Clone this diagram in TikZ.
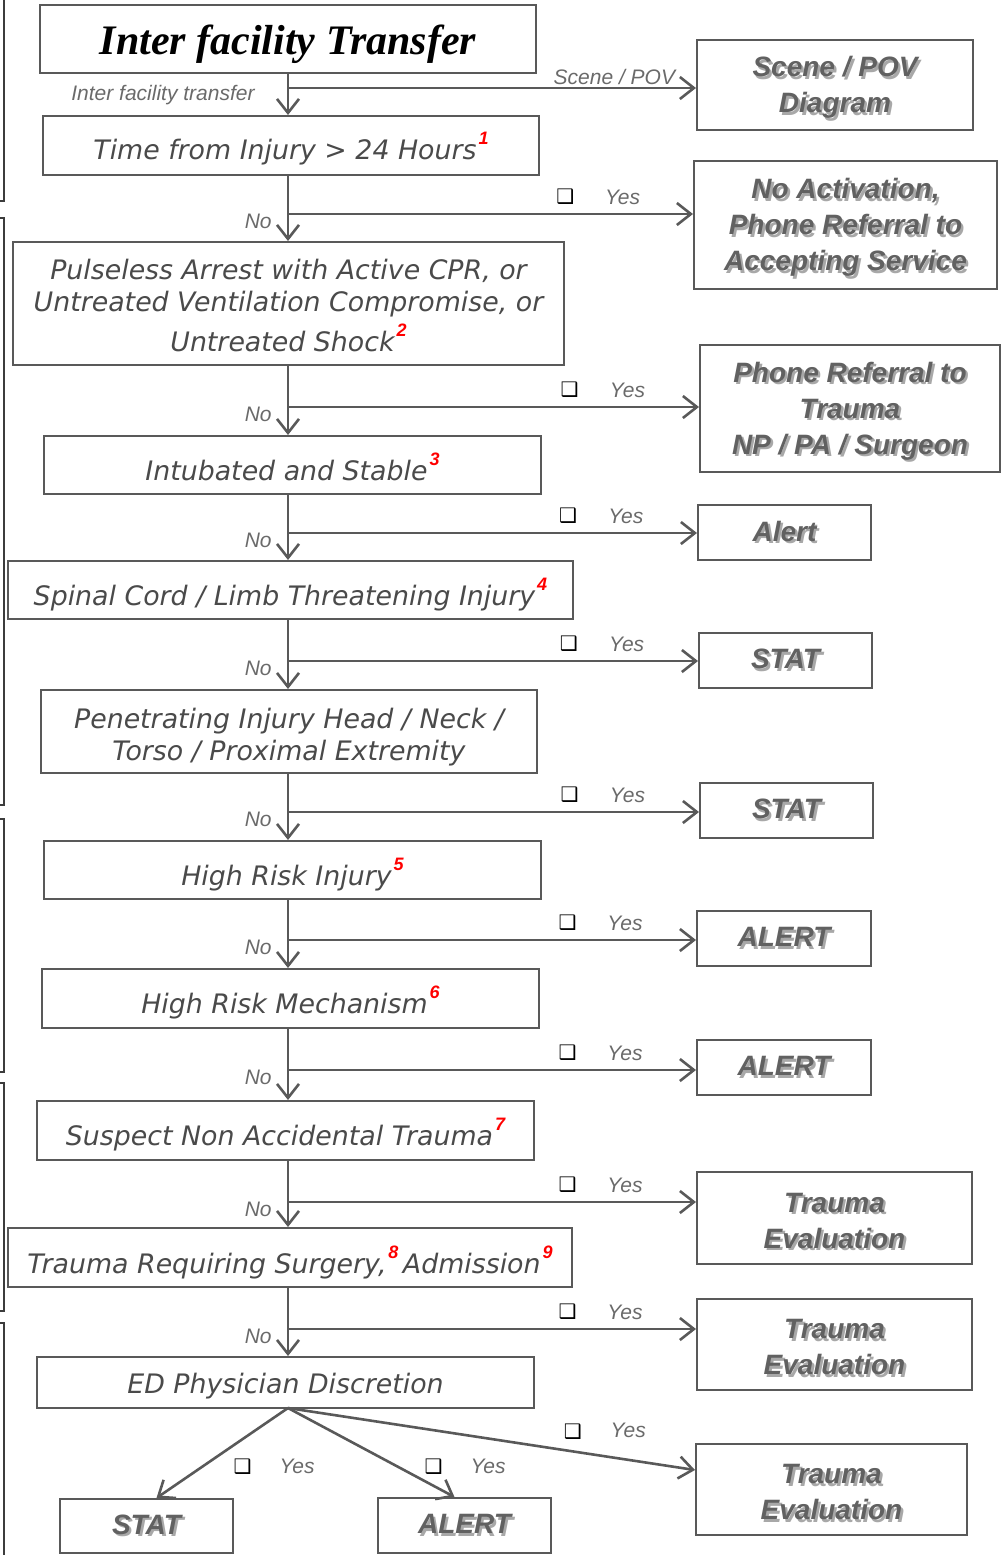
\documentclass[tikz,border=0pt]{standalone}
\usepackage{fontspec}
\usepackage{tikz}
\usetikzlibrary{arrows.meta,positioning,calc}
\setmainfont{DejaVu Sans}
\newfontfamily\critfont{DejaVu Sans}
\newfontfamily\outfont{Liberation Sans}
\newfontfamily\titlefont{Liberation Serif}
\newfontfamily\symfont{DejaVu Sans}
\definecolor{linegray}{HTML}{595959}
\definecolor{textgray}{HTML}{4A4A4A}
\definecolor{lblgray}{HTML}{6A6A6A}
\definecolor{outgray}{HTML}{616161}
\definecolor{shadowgray}{HTML}{A8A8A8}
\definecolor{brkgray}{HTML}{3C3C3C}
\newcommand{\fn}[1]{\kern1pt\raisebox{7.5pt}{\outfont\bfseries\itshape\fontsize{9}{9}\selectfont\color{red}#1}}
\newcommand{\shd}[1]{\leavevmode\rlap{\kern1.2pt\raisebox{-1.2pt}{\color{shadowgray}#1}}#1}
\newcommand{\up}{\rule{0pt}{13.7pt}}
\tikzset{
    crit/.style={
        draw=linegray,
        line width=1pt,
        inner sep=0pt,
        text=textgray,
        align=center,
        font=\critfont\itshape\fontsize{13.4}{16}\selectfont,
    },
    one/.style={
        text height=15.5pt,
        text depth=0.5pt,
    },
    outc/.style={
        draw=linegray,
        line width=1pt,
        inner sep=0pt,
        text=outgray,
        align=center,
        font=\outfont\bfseries\itshape\fontsize{14}{18}\selectfont,
    },
    con/.style={
        draw=linegray,
        line width=1.3pt,
    },
    lbl/.style={
        inner sep=1pt,
        text=lblgray,
        font=\outfont\itshape\fontsize{10.5}{12}\selectfont,
    },
    chk/.style={
        inner sep=1pt,
        text=black,
        font=\symfont\fontsize{10}{10}\selectfont,
    },
    brk/.style={
        draw=brkgray,
        line width=1pt,
    },
}

\begin{document}
\begin{tikzpicture}[x=0.5pt,y=-0.5pt,>={Straight Barb[length=7pt,width=11pt]}]
    \useasboundingbox (0,0) rectangle (1005,1555);
    % brackets at the left edge
    \draw[brk] (-30,-30) rectangle (4,201);
    \draw[brk] (-30,218) rectangle (4,805);
    \draw[brk] (-30,819) rectangle (4,1072);
    \draw[brk] (-30,1083) rectangle (4,1311);
    \draw[brk] (-30,1323) rectangle (4,1600);

    % questions
    \node[crit, one, text=black, font=\titlefont\bfseries\itshape\fontsize{21}{24}\selectfont,
          minimum width=248pt, minimum height=34pt] (title) at (288,39) {Inter facility Transfer};
    \node[crit, one, text height=14.5pt, minimum width=248pt, minimum height=29.5pt] (time) at (291,145.5) {Time from Injury > 24 Hours\fn{1}};
    \node[crit, minimum width=275.5pt, minimum height=61.5pt] (pulse) at (288.5,303.5)
        {\rule{0pt}{12.2pt}Pulseless Arrest with Active CPR, or\\Untreated Ventilation Compromise, or\\[2pt]Untreated Shock\fn{2}};
    \node[crit, one, minimum width=248.5pt, minimum height=29pt] (intub) at (292.5,465) {Intubated and Stable\fn{3}};
    \node[crit, one, minimum width=282.5pt, minimum height=29pt] (spinal) at (290.5,590) {Spinal Cord / Limb Threatening Injury\fn{4}};
    \node[crit, minimum width=248pt, minimum height=41.5pt] (penet) at (289,731.5)
        {\rule{0pt}{16.2pt}Penetrating Injury Head / Neck /\\Torso / Proximal Extremity};
    \node[crit, one, minimum width=248.5pt, minimum height=29pt] (hri) at (292.5,870) {High Risk Injury\fn{5}};
    \node[crit, one, minimum width=248.5pt, minimum height=29.5pt] (hrm) at (290.5,998.5) {High Risk Mechanism\fn{6}};
    \node[crit, one, minimum width=248.5pt, minimum height=29.5pt] (nat) at (285.5,1130.5) {Suspect Non Accidental Trauma\fn{7}};
    \node[crit, one, text height=16.5pt, minimum width=282pt, minimum height=29.5pt] (surg) at (290,1257.5) {Trauma Requiring Surgery,\fn{8}\,Admission\fn{9}};
    \node[crit, one, text height=11.5pt, minimum width=248.5pt, minimum height=25.5pt] (ed) at (285.5,1382.5) {ED Physician Discretion};

    % outcomes
    \node[outc, minimum width=138pt, minimum height=45pt] (scene) at (835,85) {\up\shd{Scene / POV}\\\shd{Diagram}};
    \node[outc, minimum width=151.5pt, minimum height=64pt] (noact) at (845.5,225)
        {\up\shd{No Activation,}\\\shd{Phone Referral to}\\\shd{Accepting Service}};
    \node[outc, minimum width=150pt, minimum height=63.5pt] (phone) at (850,408.5)
        {\up\shd{Phone Referral to}\\\shd{Trauma}\\\shd{NP / PA / Surgeon}};
    \node[outc, minimum width=86.5pt, minimum height=27.5pt] (alert1) at (784.5,532.5) {\shd{Alert}};
    \node[outc, minimum width=86.5pt, minimum height=27.5pt] (stat1) at (785.5,660.5) {\shd{STAT}};
    \node[outc, minimum width=86.5pt, minimum height=27.5pt] (stat2) at (786.5,810.5) {\shd{STAT}};
    \node[outc, minimum width=87pt, minimum height=27.5pt] (alert2) at (784,938.5) {\shd{ALERT}};
    \node[outc, minimum width=87pt, minimum height=27.5pt] (alert3) at (784,1067.5) {\shd{ALERT}};
    \node[outc, minimum width=137.5pt, minimum height=46pt] (eval1) at (834.5,1218) {\up\shd{Trauma}\\\shd{Evaluation}};
    \node[outc, minimum width=137.5pt, minimum height=45.5pt] (eval2) at (834.5,1344.5) {\up\shd{Trauma}\\\shd{Evaluation}};
    \node[outc, minimum width=86.5pt, minimum height=27pt] (stat3) at (146.5,1526) {\shd{STAT}};
    \node[outc, minimum width=86.5pt, minimum height=27.5pt] (alert4) at (464.5,1525.5) {\shd{ALERT}};
    \node[outc, minimum width=135.5pt, minimum height=45.5pt] (eval3) at (831.5,1489.5) {\up\shd{Trauma}\\\shd{Evaluation}};

    % junctions on the trunk
    \coordinate (j0) at (288,88);
    \coordinate (j1) at (288,214);
    \coordinate (j2) at (288,407);
    \coordinate (j3) at (288,533);
    \coordinate (j4) at (288,661);
    \coordinate (j5) at (288,812);
    \coordinate (j6) at (288,940);
    \coordinate (j7) at (288,1070);
    \coordinate (j8) at (288,1202);
    \coordinate (j9) at (288,1329);
    \coordinate (fan) at (288,1408);

    % trunk
    \draw[con,->] (title.south) -- (title.south |- time.north);
    \draw[con,->] (time.south -| title) -- (pulse.north -| title);
    \draw[con,->] (pulse.south -| title) -- (intub.north -| title);
    \draw[con,->] (intub.south -| title) -- (spinal.north -| title);
    \draw[con,->] (spinal.south -| title) -- (penet.north -| title);
    \draw[con,->] (penet.south -| title) -- (hri.north -| title);
    \draw[con,->] (hri.south -| title) -- (hrm.north -| title);
    \draw[con,->] (hrm.south -| title) -- (nat.north -| title);
    \draw[con,->] (nat.south -| title) -- (surg.north -| title);
    \draw[con,->] (surg.south -| title) -- (ed.north -| title);

    % branches
    \draw[con,->] (j0) -- node[lbl, pos=0.8, above=0pt] {Scene / POV} (j0 -| scene.west);
    \node[lbl, anchor=east] (iftlbl) at ($(j0)+(-31,7)$) {Inter facility transfer};
    \draw[con,->] (j1) -- node[chk, pos=0.685, above=3pt] {❑} node[lbl, pos=0.826, above=3pt] {Yes} (j1 -| noact.west);
    \draw[con,->] (j2) -- node[chk, pos=0.685, above=3pt] {❑} node[lbl, pos=0.826, above=3pt] {Yes} (j2 -| phone.west);
    \draw[con,->] (j3) -- node[chk, pos=0.685, above=3pt] {❑} node[lbl, pos=0.826, above=3pt] {Yes} (j3 -| alert1.west);
    \draw[con,->] (j4) -- node[chk, pos=0.685, above=3pt] {❑} node[lbl, pos=0.826, above=3pt] {Yes} (j4 -| stat1.west);
    \draw[con,->] (j5) -- node[chk, pos=0.685, above=3pt] {❑} node[lbl, pos=0.826, above=3pt] {Yes} (j5 -| stat2.west);
    \draw[con,->] (j6) -- node[chk, pos=0.685, above=3pt] {❑} node[lbl, pos=0.826, above=3pt] {Yes} (j6 -| alert2.west);
    \draw[con,->] (j7) -- node[chk, pos=0.685, above=3pt] {❑} node[lbl, pos=0.826, above=3pt] {Yes} (j7 -| alert3.west);
    \draw[con,->] (j8) -- node[chk, pos=0.685, above=3pt] {❑} node[lbl, pos=0.826, above=3pt] {Yes} (j8 -| eval1.west);
    \draw[con,->] (j9) -- node[chk, pos=0.685, above=3pt] {❑} node[lbl, pos=0.826, above=3pt] {Yes} (j9 -| eval2.west);
    \node[lbl, anchor=east] (no1) at ($(j1)+(-14,7)$) {No};
    \node[lbl, anchor=east] (no2) at ($(j2)+(-14,7)$) {No};
    \node[lbl, anchor=east] (no3) at ($(j3)+(-14,7)$) {No};
    \node[lbl, anchor=east] (no4) at ($(j4)+(-14,7)$) {No};
    \node[lbl, anchor=east] (no5) at ($(j5)+(-14,7)$) {No};
    \node[lbl, anchor=east] (no6) at ($(j6)+(-14,7)$) {No};
    \node[lbl, anchor=east] (no7) at ($(j7)+(-14,7)$) {No};
    \node[lbl, anchor=east] (no8) at ($(j8)+(-14,7)$) {No};
    \node[lbl, anchor=east] (no9) at ($(j9)+(-14,7)$) {No};

    % discretion fan
    \draw[con,->] (fan) -- node[chk, pos=0.652, right=14pt] {❑} node[lbl, pos=0.652, right=37pt] {Yes} ([xshift=5pt]stat3.north);
    \draw[con,->] (fan) -- node[chk, pos=0.656, right=12pt] {❑} node[lbl, pos=0.656, right=35pt] {Yes} ([xshift=-5pt]alert4.north);
    \draw[con,->] (fan) -- node[chk, pos=0.7, above=4.5pt] {❑} node[lbl, pos=0.836, above=9.5pt] {Yes} ([yshift=9.75pt]eval3.west);
\end{tikzpicture}
\end{document}
